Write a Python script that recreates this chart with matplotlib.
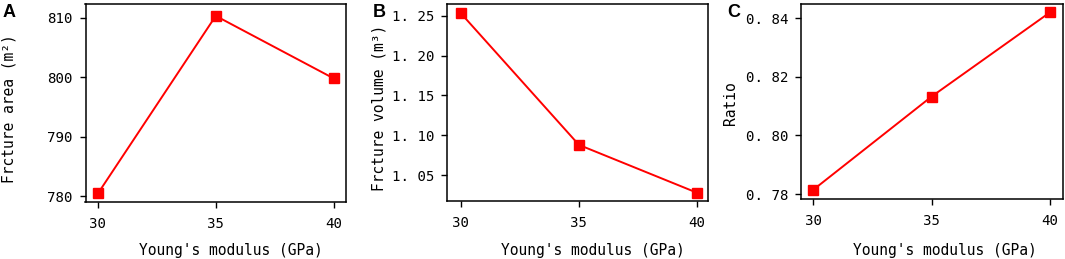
import matplotlib
matplotlib.use("Agg")
import matplotlib.pyplot as plt

W, H = 1065, 259
x_vals = [30, 35, 40]
area = [780.45, 810.3, 799.8]
volume = [1.253, 1.088, 1.028]
ratio = [0.7814, 0.8133, 0.8421]
ylabels = ["Frcture area (m²)", "Frcture volume (m³)", "Ratio"]
xlabel = "Young's modulus (GPa)"
letters = ["A", "B", "C"]

mono = "DejaVu Sans Mono"
plt.rcParams['font.family'] = [mono]

fig = plt.figure(figsize=(W / 100, H / 100), dpi=100)

# pixel boxes: left, right, top, bottom
boxes = [(85.5, 346, 4, 202), (447, 708, 4, 201), (801, 1063, 4, 199)]
xlims = [(29.47, 40.53), (29.41, 40.47), (29.49, 40.54)]
ylims = [(779.0, 812.3), (1.0176, 1.2647), (0.7783, 0.8449)]
yticks = [[780, 790, 800, 810], [1.05, 1.10, 1.15, 1.20, 1.25], [0.78, 0.80, 0.82, 0.84]]
yfmt = ["{:.0f}", "{:.2f}", "{:.2f}"]
series = [area, volume, ratio]
ylabel_right = [17, 387, 738]
ylabel_yfrac = [0.47, 0.472, 0.49]
xlabel_center = [231, 593, 945]
letter_x = [3, 373, 727]

for i in range(3):
    l, r, t, b = boxes[i]
    ax = fig.add_axes([l / W, 1 - b / H, (r - l) / W, (b - t) / H])
    ax.plot(x_vals, series[i], color="#ff0000", lw=1.4, marker="s", ms=7.8,
            markeredgecolor="#ff0000", markerfacecolor="#ff0000")
    ax.set_xlim(*xlims[i])
    ax.set_ylim(*ylims[i])
    ax.set_xticks(x_vals)
    ax.set_xticklabels([str(v) for v in x_vals], fontsize=10.2)
    ax.set_yticks(yticks[i])
    ax.set_yticklabels([yfmt[i].format(v).replace(".", ". ") for v in yticks[i]], fontsize=10.2)
    ax.tick_params(axis="both", direction="out", length=4.3, width=1, colors="black")
    ax.tick_params(axis="y", pad=5)
    ax.tick_params(axis="x", pad=6.5)
    for s in ax.spines.values():
        s.set_linewidth(1.1)
    ax.set_ylabel(ylabels[i], fontsize=10.5)
    ax.yaxis.set_label_coords((ylabel_right[i] - l) / (r - l), ylabel_yfrac[i])
    fig.text(xlabel_center[i] / W, 1 - 255 / H, xlabel, fontsize=10.5,
             ha="center", va="baseline")
    fig.text(letter_x[i] / W, 1 - 4 / H, letters[i],
             fontsize=13, fontweight="bold", fontfamily="Liberation Sans", va="top", ha="left")

fig.savefig("out.png", dpi=100)
